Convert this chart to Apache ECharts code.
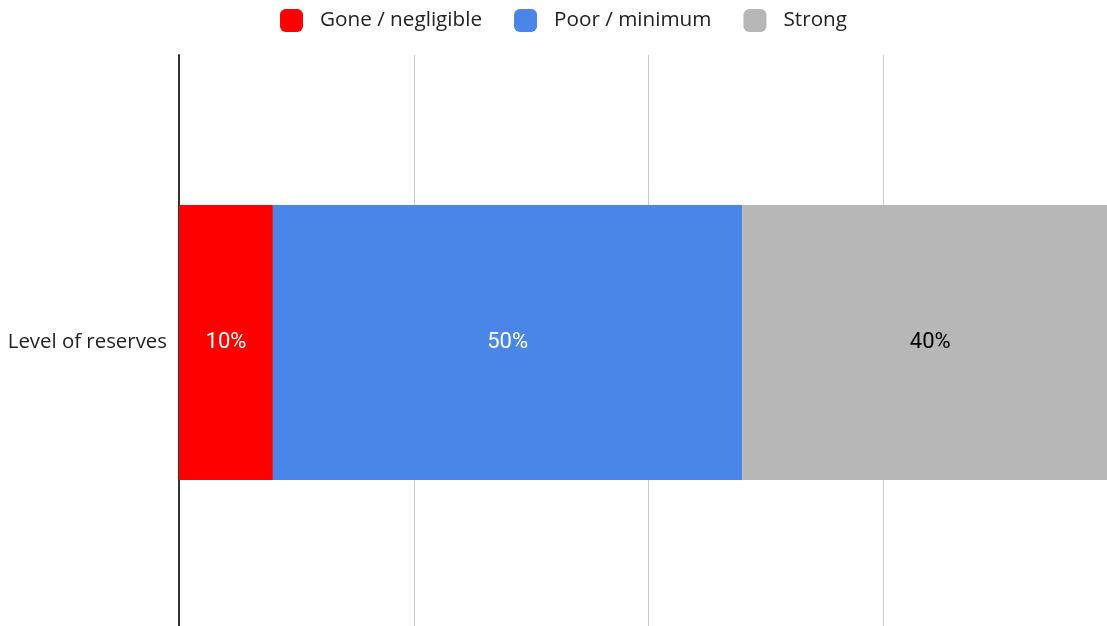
<!DOCTYPE html>
<html><head><meta charset="utf-8">
<script src="https://cdn.jsdelivr.net/npm/echarts@6/dist/echarts.min.js"></script>
<style>html,body{margin:0;padding:0;background:#fff}#c{width:1107px;height:626px}</style>
</head><body><div id="c"></div>
<script>
const categories = ['Level of reserves'];
const seriesNames = ['Gone / negligible', 'Poor / minimum', 'Strong'];
const goneValues = [0.10];
const poorValues = [0.50];
const strongValues = [0.40];
const colors = ['#ff0000', '#4a86e8', '#b7b7b7'];
const labelColors = ['#ffffff', '#ffffff', '#000000'];
const valueSets = [goneValues, poorValues, strongValues];

const chart = echarts.init(document.getElementById('c'));
const font = '"Open Sans", "Noto Sans", sans-serif';
chart.setOption({
  animation: false,
  textStyle: { fontFamily: font },
  legend: {
    top: 4, left: 275,
    itemWidth: 23, itemHeight: 23, itemGap: 32,
    icon: 'roundRect',
    textStyle: { fontSize: 20.7, color: '#222', fontFamily: font, padding: [0, 0, 0, 12] },
    data: seriesNames
  },
  grid: { left: 179, right: -11, top: 55, bottom: -4, containLabel: false, outerBoundsMode: 'none' },
  xAxis: {
    type: 'value', min: 0, max: 1, interval: 0.25,
    axisLine: { show: false }, axisTick: { show: false }, axisLabel: { show: false },
    splitLine: { lineStyle: { color: '#cccccc', width: 1 } }
  },
  yAxis: {
    type: 'category', data: categories,
    axisLine: { lineStyle: { color: '#333333', width: 2 } },
    axisTick: { show: false },
    axisLabel: { fontSize: 20.4, color: '#222', margin: 12, fontFamily: font }
  },
  series: valueSets.map((vals, i) => ({
    name: seriesNames[i], type: 'bar', stack: 'total', barWidth: 275, clip: false,
    data: vals,
    itemStyle: { color: colors[i] },
    label: {
      show: true, position: 'inside', fontSize: 22, color: labelColors[i], fontFamily: 'Roboto, sans-serif',
      formatter: p => Math.round(p.value * 100) + '%'
    }
  }))
});
</script></body></html>
